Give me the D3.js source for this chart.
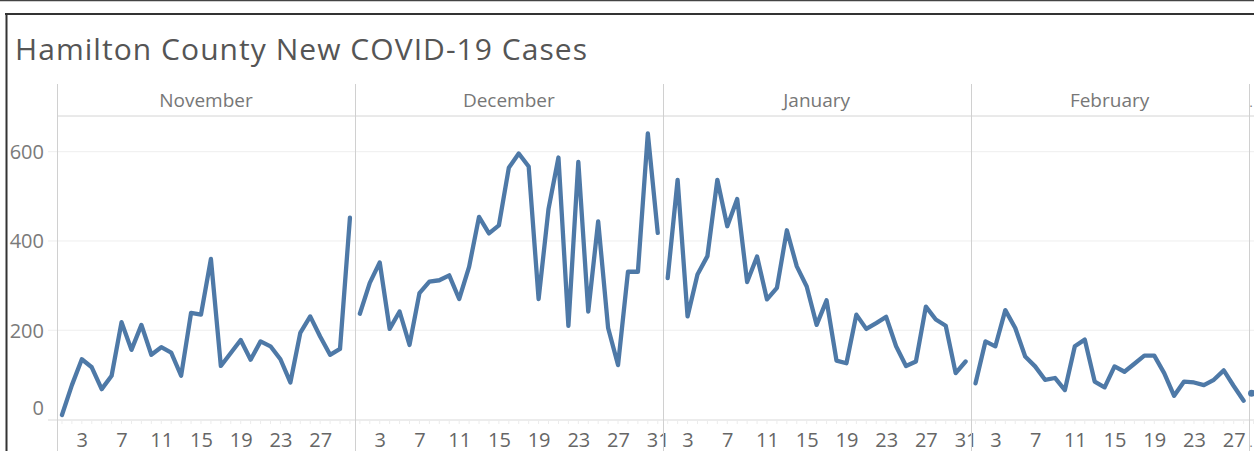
<!DOCTYPE html>
<html>
<head>
<meta charset="utf-8">
<script src="https://cdn.jsdelivr.net/npm/d3@7"></script>
<style>
html,body{margin:0;padding:0;background:#fff;overflow:hidden;}
svg{display:block;}
</style>
</head>
<body>
<svg id="chart" width="1254" height="451"></svg>
<script>
const title = "Hamilton County New COVID-19 Cases";
const months = ["November", "December", "January", "February", "March"];
const monthDays = [30, 31, 31, 28, 31];
const yTicks = [0, 200, 400, 600];
const dayTicks = [3, 7, 11, 15, 19, 23, 27, 31];

const novCases = [10,77,135,117,68,98,218,156,212,145,162,150,98,239,235,360,120,149,178,134,175,164,135,83,194,231,186,145,158,452];
const decCases = [237,306,352,203,242,167,283,309,312,323,270,342,454,417,435,564,596,567,270,472,587,210,577,242,444,205,122,331,331,641,418];
const janCases = [317,537,231,325,366,537,433,494,308,365,269,295,424,343,298,212,267,132,126,235,203,216,230,164,120,130,253,224,210,104,130];
const febCases = [81,175,164,245,205,141,119,89,93,66,164,179,85,72,119,107,125,143,143,104,53,85,83,77,89,110,75,42];
const marCases = [59];
const seriesByMonth = [novCases, decCases, janCases, febCases, marCases];

const W = 1254, H = 451;
const plotLeft = 57, plotTop = 116, headerTop = 84, axisY = 420;
const dayWidth = 9.93;
const FONT = "'Open Sans', sans-serif";
const svg = d3.select("#chart");

// frame
svg.append("line").attr("x1",0).attr("x2",W).attr("y1",0.5).attr("y2",0.5).attr("stroke","#444").attr("stroke-width",1.5);
svg.append("line").attr("x1",5).attr("x2",W).attr("y1",14).attr("y2",14).attr("stroke","#333").attr("stroke-width",2);
svg.append("line").attr("x1",6.5).attr("x2",6.5).attr("y1",13).attr("y2",H).attr("stroke","#333").attr("stroke-width",2);

svg.append("text").attr("x",15).attr("y",59.5).text(title)
  .attr("font-family",FONT).attr("font-size",30).attr("letter-spacing",1.05).attr("fill","#555");

const y = d3.scaleLinear().domain([0, 680]).range([419.5, plotTop]);

const starts = [];
let acc = 0;
monthDays.forEach(n => { starts.push(acc); acc += n; });
const xGlobal = d3.scaleLinear().domain([0, 1]).range([plotLeft, plotLeft + dayWidth]);

svg.append("defs").append("clipPath").attr("id","clipAll")
  .append("rect").attr("x",0).attr("y",0).attr("width",W).attr("height",H);

// gridlines
const grid = svg.append("g");
yTicks.filter(v => v > 0).forEach(v => {
  grid.append("line").attr("x1",48).attr("x2",W).attr("y1",y(v)).attr("y2",y(v))
    .attr("stroke","#eeeeee").attr("stroke-width",1);
});

// y axis labels
const yAxis = d3.axisLeft(y).tickValues(yTicks).tickSize(0).tickPadding(0);
const gy = svg.append("g").attr("transform","translate(44,0)").call(yAxis);
gy.select(".domain").remove();
gy.selectAll("text").attr("font-family",FONT).attr("font-size",20).attr("fill","#7a7a7a")
  .attr("dy", d => d === 0 ? "-0.25em" : "0.35em");

// header line and axis line
svg.append("line").attr("x1",plotLeft).attr("x2",W).attr("y1",plotTop).attr("y2",plotTop).attr("stroke","#d4d4d4");
svg.append("line").attr("x1",48).attr("x2",W).attr("y1",axisY).attr("y2",axisY).attr("stroke","#d9d9d9");

const line = d3.line().x(d => d.x).y(d => d.y);

months.forEach((m, i) => {
  const n = monthDays[i];
  const x0 = xGlobal(starts[i]);
  const x1 = xGlobal(starts[i] + n);
  const xs = d3.scaleLinear().domain([0.5, n + 0.5]).range([x0, x1]);
  const truncated = x1 > W;
  svg.append("line").attr("x1",Math.round(x0)+0.5).attr("x2",Math.round(x0)+0.5).attr("y1",headerTop).attr("y2",H)
    .attr("stroke","#d0d0d0");
  svg.append("text").attr("x", truncated ? x0 + 1 : (x0 + x1) / 2).attr("y", 107)
    .attr("text-anchor", truncated ? "start" : "middle")
    .attr("font-family",FONT).attr("font-size", truncated ? 12 : 19).attr("fill","#777").text(truncated ? "." : m);
  const days = d3.range(1, n + 1);
  svg.append("g").selectAll("line").data(days.filter(d => xs(d) < W)).join("line")
    .attr("x1", d => xs(d)).attr("x2", d => xs(d)).attr("y1", axisY + 1).attr("y2", axisY + 4)
    .attr("stroke", "#ececec");
  if (!truncated) {
    const xAxis = d3.axisBottom(xs).tickValues(dayTicks.filter(d => d <= n)).tickSize(0).tickPadding(0);
    const gx = svg.append("g").attr("transform",`translate(0,446.5)`).call(xAxis);
    gx.select(".domain").remove();
    gx.selectAll("text").attr("font-family",FONT).attr("font-size",20).attr("fill","#666").attr("dy","0em");
  } else {
    svg.append("text").attr("x", x0 + 1).attr("y", 446.5).attr("font-family",FONT).attr("font-size",12)
      .attr("fill","#777").text(".");
  }
  const pts = seriesByMonth[i].map((v, k) => ({x: xs(k + 1), y: y(v)}));
  if (pts.length > 1) {
    svg.append("path").datum(pts).attr("d", line).attr("fill","none")
      .attr("stroke","#4e79a7").attr("stroke-width",4.3).attr("stroke-linejoin","round").attr("stroke-linecap","round")
      .attr("clip-path","url(#clipAll)");
  } else {
    svg.append("g").selectAll("circle").data(pts).join("circle")
      .attr("cx", d => d.x - 2).attr("cy", d => d.y).attr("r", 3.5).attr("fill","#4e79a7");
  }
});
</script>
</body>
</html>
